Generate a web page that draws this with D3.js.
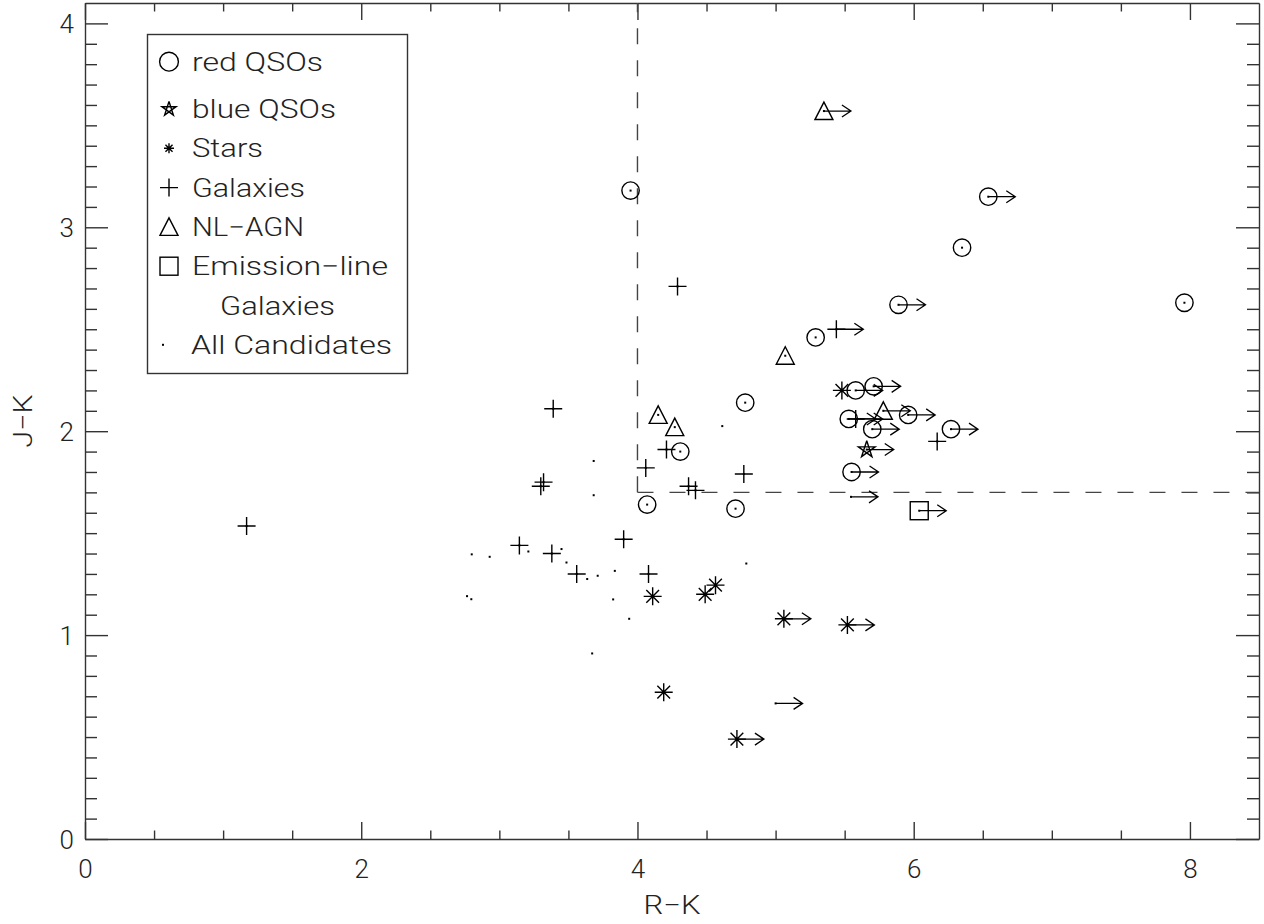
<!DOCTYPE html>
<html>
<head>
<meta charset="utf-8">
<script src="https://cdn.jsdelivr.net/npm/d3@7"></script>
<style>
  html, body { margin: 0; padding: 0; background: #fff; }
  svg { display: block; }
  text { font-family: "DejaVu Sans ExtraLight", "Roboto Light", Roboto, "DejaVu Sans", sans-serif; font-weight: 300; fill: #222; }
</style>
</head>
<body>
<svg id="chart" width="1264" height="924"></svg>
<script>
// Colour–colour diagram: each point is [R-K, J-K, lower limit on R-K (1 = yes)]
const redQSOs = [
  [3.95, 3.18, 0], [6.54, 3.15, 1], [6.35, 2.90, 0], [5.89, 2.62, 1], [7.96, 2.63, 0],
  [5.29, 2.46, 0], [4.78, 2.14, 0], [5.58, 2.20, 1], [5.71, 2.22, 1], [5.53, 2.06, 1],
  [5.96, 2.08, 1], [5.70, 2.01, 1], [6.27, 2.01, 1], [5.55, 1.80, 1], [4.31, 1.90, 0],
  [4.07, 1.64, 0], [4.71, 1.62, 0]
];
const blueQSOs = [
  [5.66, 1.91, 1]
];
const stars = [
  [5.48, 2.20, 0], [4.11, 1.19, 0], [4.49, 1.20, 0], [4.565, 1.245, 0], [5.06, 1.08, 1],
  [5.52, 1.05, 1], [4.19, 0.72, 0], [4.72, 0.49, 1]
];
const galaxies = [
  [1.17, 1.535, 0], [3.39, 2.11, 0], [3.32, 1.75, 0], [3.30, 1.73, 0], [3.145, 1.44, 0],
  [3.38, 1.40, 0], [3.56, 1.30, 0], [3.90, 1.47, 0], [4.08, 1.30, 0], [4.06, 1.82, 0],
  [4.21, 1.91, 0], [4.37, 1.73, 0], [4.42, 1.71, 0], [4.77, 1.79, 0], [4.29, 2.71, 0],
  [5.44, 2.50, 1], [5.58, 2.06, 1], [6.17, 1.95, 0]
];
const nlAGN = [
  [5.35, 3.57, 1], [5.07, 2.37, 0], [4.15, 2.08, 0], [4.27, 2.02, 0], [5.78, 2.10, 1]
];
const emissionLineGalaxies = [
  [6.04, 1.61, 1]
];
const allCandidates = [
  [2.80, 1.396, 0], [2.93, 1.384, 0], [3.21, 1.41, 0], [3.45, 1.422, 0], [3.486, 1.356, 0],
  [3.636, 1.275, 0], [3.712, 1.291, 0], [3.836, 1.315, 0], [2.766, 1.191, 0], [2.797, 1.176, 0],
  [3.824, 1.175, 0], [3.94, 1.08, 0], [3.672, 0.91, 0], [4.788, 1.351, 0], [3.683, 1.854, 0],
  [3.683, 1.686, 0], [4.614, 2.025, 0], [5.546, 1.678, 1], [5.00, 0.665, 1]
];

const xMajorTicks = [0, 2, 4, 6, 8];
const xMinorTicks = [0.5, 1, 1.5, 2.5, 3, 3.5, 4.5, 5, 5.5, 6.5, 7, 7.5];
const yMajorTicks = [0, 1, 2, 3, 4];
const yMinorTicks = d3.range(1, 41).map(i => i / 10).filter(v => Math.abs(v - Math.round(v)) > 1e-6);
const xTitle = "R\u2212K";
const yTitle = "J\u2212K";
const cutRK = 4.0;
const cutJK = 1.7;

const legendLabels = ["red QSOs", "blue QSOs", "Stars", "Galaxies", "NL\u2212AGN", "Emission\u2212line", "Galaxies", "All Candidates"];
const legendSymbols = ["circle", "star", "asterisk", "plus", "triangle", "square", null, "dot"];

// ---- layout ----
const frame = { left: 85, right: 1259, top: 3, bottom: 839 };
const svg = d3.select("#chart");
const x = d3.scaleLinear().domain([0, 8.5]).range([frame.left, frame.right]);
const y = d3.scaleLinear().domain([0, 4.1]).range([frame.bottom, frame.top]);
const axisColor = "#333";

function styleAxis(g) {
  g.selectAll("path.domain").attr("stroke", axisColor).attr("stroke-width", 1.4);
  g.selectAll(".tick line").attr("stroke", axisColor).attr("stroke-width", 1.4);
}

// bottom axis with labels
const gx = svg.append("g").attr("transform", `translate(0,${frame.bottom})`)
  .call(d3.axisBottom(x).tickValues(xMajorTicks).tickSize(-17).tickSizeOuter(0).tickFormat(d3.format("d")));
styleAxis(gx);
gx.selectAll("text").attr("y", 21).attr("dy", "0.71em").style("font-size", "26px").attr("fill", "#222");
svg.append("g").attr("transform", `translate(0,${frame.bottom})`)
  .call(d3.axisBottom(x).tickValues(xMinorTicks).tickSize(-8.5).tickFormat(""))
  .call(g => g.select(".domain").remove()).call(styleAxis);

// top axis
const gxt = svg.append("g").attr("transform", `translate(0,${frame.top})`)
  .call(d3.axisTop(x).tickValues(xMajorTicks).tickSize(-17).tickSizeOuter(0).tickFormat(""));
styleAxis(gxt);
svg.append("g").attr("transform", `translate(0,${frame.top})`)
  .call(d3.axisTop(x).tickValues(xMinorTicks).tickSize(-8.5).tickFormat(""))
  .call(g => g.select(".domain").remove()).call(styleAxis);

// left axis with labels
const gy = svg.append("g").attr("transform", `translate(${frame.left},0)`)
  .call(d3.axisLeft(y).tickValues(yMajorTicks).tickSize(-23).tickSizeOuter(0).tickFormat(d3.format("d")));
styleAxis(gy);
gy.selectAll("text").attr("x", -11).attr("dy", "0.36em").style("font-size", "26px").attr("fill", "#222");
svg.append("g").attr("transform", `translate(${frame.left},0)`)
  .call(d3.axisLeft(y).tickValues(yMinorTicks).tickSize(-12).tickFormat(""))
  .call(g => g.select(".domain").remove()).call(styleAxis);

// right axis
const gyr = svg.append("g").attr("transform", `translate(${frame.right},0)`)
  .call(d3.axisRight(y).tickValues(yMajorTicks).tickSize(-23).tickSizeOuter(0).tickFormat(""));
styleAxis(gyr);
svg.append("g").attr("transform", `translate(${frame.right},0)`)
  .call(d3.axisRight(y).tickValues(yMinorTicks).tickSize(-12).tickFormat(""))
  .call(g => g.select(".domain").remove()).call(styleAxis);

// axis titles
svg.append("text").attr("x", (frame.left + frame.right) / 2).attr("y", 914)
  .attr("text-anchor", "middle").style("font-size", "26px")
  .attr("textLength", 57).attr("lengthAdjust", "spacingAndGlyphs").text(xTitle);
svg.append("text").attr("transform", `translate(32,${(frame.top + frame.bottom) / 2}) rotate(-90)`)
  .attr("text-anchor", "middle").style("font-size", "26px")
  .attr("textLength", 53).attr("lengthAdjust", "spacingAndGlyphs").text(yTitle);

// selection cuts (dashed)
const dash = "16,16";
svg.append("path")
  .attr("d", d3.line()([[x(cutRK), y(cutJK)], [x(cutRK), y(4.1)]]))
  .attr("fill", "none").attr("stroke", "#444").attr("stroke-width", 1.4).attr("stroke-dasharray", dash);
svg.append("path")
  .attr("d", d3.line()([[x(cutRK), y(cutJK)], [x(8.5), y(cutJK)]]))
  .attr("fill", "none").attr("stroke", "#444").attr("stroke-width", 1.4).attr("stroke-dasharray", dash);

// ---- symbols ----
function pentagramPath(R) {
  const pts = d3.range(5).map(k => {
    const a = (-90 + k * 72) * Math.PI / 180;
    return [R * Math.cos(a), R * Math.sin(a)];
  });
  const order = [0, 2, 4, 1, 3, 0];
  return "M" + order.map(i => pts[i].join(",")).join("L");
}

function drawSymbol(g, type, opts = {}) {
  const s = opts.scale || 1;
  const stroke = "#000", sw = 1.4;
  if (type === "circle") {
    g.append("circle").attr("r", 8.7 * s).attr("fill", "none").attr("stroke", stroke).attr("stroke-width", sw);
  } else if (type === "star") {
    g.append("path").attr("d", pentagramPath(8.8 * s)).attr("fill", "none").attr("stroke", stroke).attr("stroke-width", sw).attr("stroke-linejoin", "miter");
  } else if (type === "asterisk") {
    const r = (opts.r || 9);
    const d = r * Math.SQRT1_2;
    const p = `M${-r},0L${r},0M0,${-r}L0,${r}M${-d},${-d}L${d},${d}M${-d},${d}L${d},${-d}`;
    g.append("path").attr("d", p).attr("fill", "none").attr("stroke", stroke).attr("stroke-width", sw);
  } else if (type === "plus") {
    const r = 9 * s;
    g.append("path").attr("d", `M${-r},0L${r},0M0,${-r}L0,${r}`).attr("fill", "none").attr("stroke", stroke).attr("stroke-width", sw);
  } else if (type === "triangle") {
    const hw = 9 * s, t = 9 * s, b = 8.5 * s;
    g.append("path").attr("d", `M0,${-t}L${hw},${b}L${-hw},${b}Z`).attr("fill", "none").attr("stroke", stroke).attr("stroke-width", sw);
  } else if (type === "square") {
    const h = 9 * s;
    g.append("rect").attr("x", -h).attr("y", -h).attr("width", 2 * h).attr("height", 2 * h)
      .attr("fill", "none").attr("stroke", stroke).attr("stroke-width", sw);
  }
  if (opts.centerDot !== false) {
    g.append("rect").attr("x", -1).attr("y", -1).attr("width", 2).attr("height", 2).attr("fill", "#000");
  }
}

function drawArrow(g) {
  const L = 27;
  g.append("path")
    .attr("d", `M0,0L${L},0M${L - 9},-6L${L},0L${L - 9},6`)
    .attr("fill", "none").attr("stroke", "#000").attr("stroke-width", 1.3);
}

const plot = svg.append("g");
function drawSeries(data, type) {
  const grp = plot.append("g");
  data.forEach(([rk, jk, lim]) => {
    const g = grp.append("g").attr("transform", `translate(${x(rk)},${y(jk)})`);
    drawSymbol(g, type);
    if (lim) drawArrow(g);
  });
}

drawSeries(allCandidates, null);
drawSeries(galaxies, "plus");
drawSeries(stars, "asterisk");
drawSeries(nlAGN, "triangle");
drawSeries(emissionLineGalaxies, "square");
drawSeries(redQSOs, "circle");
drawSeries(blueQSOs, "star");

// ---- legend ----
const legend = svg.append("g");
legend.append("rect").attr("x", 147.5).attr("y", 34.5).attr("width", 260).attr("height", 339)
  .attr("fill", "#fff").attr("stroke", axisColor).attr("stroke-width", 1.4);
const legendBaselines = [70.7, 118, 157.3, 196.6, 235.9, 275.2, 314.5, 353.8];
const legendTextX = [192, 192, 192, 192, 192, 192, 220, 191];
const legendTextW = [131, 144, 71, 113, 112, 196, 115, 201];
legendLabels.forEach((label, i) => {
  const sym = legendSymbols[i];
  const cy = legendBaselines[i] - 9;
  if (sym) {
    const g = legend.append("g").attr("transform", `translate(${sym === "dot" ? 163 : 169},${cy})`);
    if (sym === "dot") {
      g.append("rect").attr("x", -1).attr("y", -1).attr("width", 2).attr("height", 2).attr("fill", "#000");
    } else if (sym === "asterisk") {
      drawSymbol(g, "asterisk", { r: 5, centerDot: false });
    } else if (sym === "circle") {
      drawSymbol(g, "circle", { scale: 1.08, centerDot: false });
    } else if (sym === "star") {
      drawSymbol(g, "star", { scale: 0.85, centerDot: false });
    } else {
      drawSymbol(g, sym, { centerDot: false });
    }
  }
  legend.append("text").attr("x", legendTextX[i]).attr("y", legendBaselines[i])
    .style("font-size", "25px").attr("textLength", legendTextW[i]).attr("lengthAdjust", "spacingAndGlyphs")
    .text(label);
});
</script>
</body>
</html>
